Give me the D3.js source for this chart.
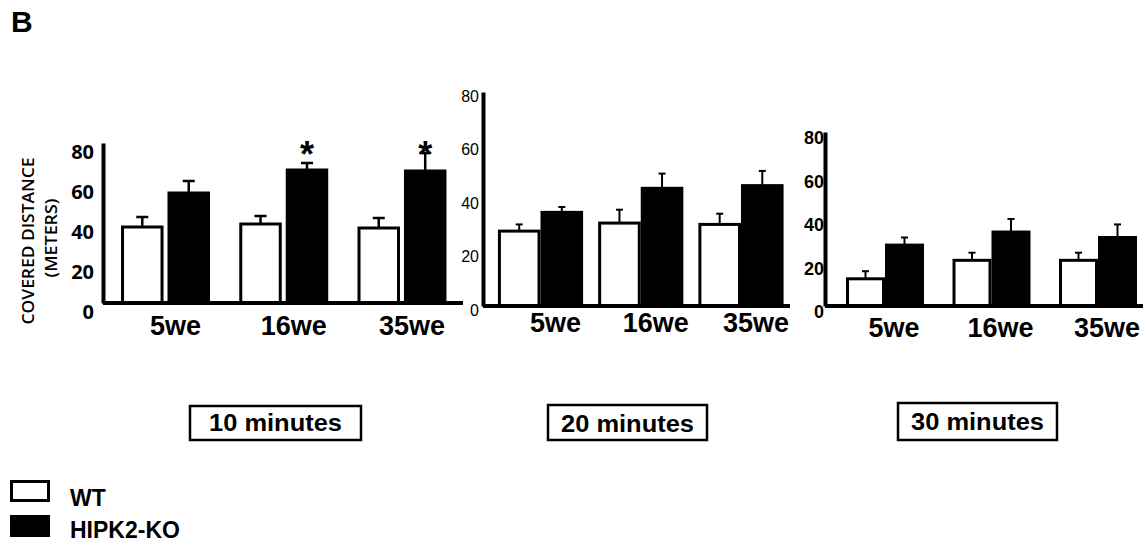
<!DOCTYPE html>
<html lang="en">
<head>
<meta charset="utf-8">
<title>Covered distance - WT vs HIPK2-KO</title>
<script src="https://d3js.org/d3.v7.min.js"></script>
<style>
	html, body { margin: 0; padding: 0; background: #fff; }
	svg { display: block; }
</style>
</head>
<body>
<svg id="chart" width="1148" height="545"></svg>
<script type="text/javascript">

	// ---- data ----
	var categories = ["5we", "16we", "35we"];
	var series = ["WT", "HIPK2-KO"];
	var panelTitles = ["10 minutes", "20 minutes", "30 minutes"];
	var yTicks = [0, 20, 40, 60, 80];

	// 10 minutes
	var wt10 = [38, 39.5, 37.5], wt10Err = [5, 4, 5];
	var ko10 = [55, 66.5, 66], ko10Err = [6, 3.5, 9];
	var ko10Sig = [false, true, true];
	// 20 minutes
	var wt20 = [28, 31, 30.5], wt20Err = [2.5, 5, 4];
	var ko20 = [35, 44, 45], ko20Err = [2, 5.5, 5.5];
	// 30 minutes
	var wt30 = [12.5, 21, 21], wt30Err = [3.5, 3.5, 3.5];
	var ko30 = [28, 34, 31.5], ko30Err = [3.5, 6, 6];

	var ARIAL = "Arial, 'Liberation Sans', sans-serif";

	// ---- layout of each panel (positions only) ----
	var layouts = [
		{ axisX: 103, base: 303, top: 143, xEnd: 463, band: [106.4, 461.1], pad: 0.273, innerPad: 0.15,
		  tickFamily: "'Open Sans', sans-serif", tickWeight: 700, tickSize: 20, tickGap: 9, tickDy: 9,
		  capW: 12, errW: 2.5, labelDx: 10, labelY: 335, box: [190, 406, 171, 34], titleY: 431 },
		{ axisX: 483, base: 306, top: 92, xEnd: 790, band: [490.4, 791.1], pad: 0.18, innerPad: 0.07,
		  tickFamily: ARIAL, tickWeight: 400, tickSize: 16, tickGap: 4, tickDy: 4,
		  capW: 7, errW: 2, labelDx: 15, labelY: 332, box: [548, 405, 159, 35], titleY: 432 },
		{ axisX: 825, base: 306, top: 132, xEnd: 1143, band: [831.75, 1151.25], pad: 0.296, innerPad: 0.077,
		  tickFamily: ARIAL, tickWeight: 700, tickSize: 18, tickGap: 1, tickDy: 6,
		  capW: 7, errW: 2, labelDx: 9, labelY: 337, box: [898, 403, 159, 37], titleY: 430 }
	];

	var panelData = [
		{ wt: wt10, wtErr: wt10Err, ko: ko10, koErr: ko10Err, sig: ko10Sig },
		{ wt: wt20, wtErr: wt20Err, ko: ko20, koErr: ko20Err, sig: [false, false, false] },
		{ wt: wt30, wtErr: wt30Err, ko: ko30, koErr: ko30Err, sig: [false, false, false] }
	];

	var svg = d3.select("#chart");

	// panel letter
	svg.append("text")
		.attr("x", 11).attr("y", 32)
		.attr("font-family", ARIAL).attr("font-weight", 700).attr("font-size", 30)
		.text("B");

	// y axis title (first panel only)
	var yTitle = svg.append("g")
		.attr("font-family", "'Open Sans', sans-serif").attr("font-weight", 600)
		.attr("font-size", 16).attr("fill", "#000");
	yTitle.append("text")
		.attr("transform", "translate(34,241) rotate(-90)")
		.attr("text-anchor", "middle")
		.attr("textLength", 167).attr("lengthAdjust", "spacingAndGlyphs")
		.text("COVERED DISTANCE");
	yTitle.append("text")
		.attr("transform", "translate(57,238) rotate(-90)")
		.attr("text-anchor", "middle")
		.attr("textLength", 79).attr("lengthAdjust", "spacingAndGlyphs")
		.text("(METERS)");

	layouts.forEach(function(L, p) {
		var D = panelData[p];
		var g = svg.append("g").attr("class", "panel");

		var y = d3.scaleLinear().domain([0, 80]).range([L.base, L.top]);
		var x0 = d3.scaleBand().domain(categories).range(L.band)
			.paddingInner(L.pad).paddingOuter(L.pad / 2);
		var x1 = d3.scaleBand().domain(series).range([0, x0.bandwidth()]).paddingInner(L.innerPad);

		var rows = [];
		categories.forEach(function(c, i) {
			rows.push({ cat: c, s: "WT", v: D.wt[i], e: D.wtErr[i], sig: false });
			rows.push({ cat: c, s: "HIPK2-KO", v: D.ko[i], e: D.koErr[i], sig: D.sig[i] });
		});

		// error bars (upper only)
		var eb = g.append("g").attr("stroke", "#000").attr("stroke-width", L.errW);
		eb.selectAll("line.v").data(rows).enter().append("line")
			.attr("class", "v")
			.attr("x1", function(d) { return x0(d.cat) + x1(d.s) + x1.bandwidth() / 2; })
			.attr("x2", function(d) { return x0(d.cat) + x1(d.s) + x1.bandwidth() / 2; })
			.attr("y1", function(d) { return y(d.v); })
			.attr("y2", function(d) { return y(d.v + d.e); });
		eb.selectAll("line.c").data(rows).enter().append("line")
			.attr("class", "c")
			.attr("x1", function(d) { return x0(d.cat) + x1(d.s) + x1.bandwidth() / 2 - L.capW / 2; })
			.attr("x2", function(d) { return x0(d.cat) + x1(d.s) + x1.bandwidth() / 2 + L.capW / 2; })
			.attr("y1", function(d) { return y(d.v + d.e); })
			.attr("y2", function(d) { return y(d.v + d.e); });

		// bars
		g.selectAll("rect.bar").data(rows).enter().append("rect")
			.attr("class", "bar")
			.attr("x", function(d) { return x0(d.cat) + x1(d.s); })
			.attr("y", function(d) { return y(d.v); })
			.attr("width", x1.bandwidth())
			.attr("height", function(d) { return L.base - y(d.v); })
			.attr("fill", function(d) { return d.s === "WT" ? "#fff" : "#000"; })
			.attr("stroke", "#000")
			.attr("stroke-width", 3);

		// significance stars
		g.selectAll("text.star").data(rows.filter(function(d) { return d.sig; })).enter().append("text")
			.attr("class", "star")
			.attr("x", function(d) { return x0(d.cat) + x1(d.s) + x1.bandwidth() / 2; })
			.attr("y", y(80) + 24)
			.attr("text-anchor", "middle")
			.attr("font-family", ARIAL).attr("font-weight", 700).attr("font-size", 36)
			.text("*");

		// y axis
		var ya = g.append("g")
			.attr("transform", "translate(" + L.axisX + ",0)")
			.call(d3.axisLeft(y).tickValues(yTicks).tickSize(0).tickSizeOuter(0).tickPadding(L.tickGap));
		ya.select(".domain").attr("stroke-width", 4);
		ya.selectAll("text")
			.attr("y", L.tickDy)
			.attr("fill", "#000")
			.style("font-family", L.tickFamily)
			.style("font-weight", L.tickWeight)
			.style("font-size", L.tickSize + "px");

		// x axis line
		g.append("line")
			.attr("x1", L.axisX).attr("x2", L.xEnd)
			.attr("y1", L.base).attr("y2", L.base)
			.attr("stroke", "#000").attr("stroke-width", 4);

		// category labels
		var xa = g.append("g")
			.attr("transform", "translate(0," + L.labelY + ")")
			.call(d3.axisBottom(x0).tickSize(0).tickSizeOuter(0));
		xa.select(".domain").remove();
		xa.selectAll("text")
			.attr("x", L.labelDx).attr("y", 0).attr("dy", 0)
			.attr("fill", "#000")
			.style("font-family", ARIAL).style("font-weight", 700).style("font-size", "27px");

		// boxed panel title
		g.append("rect")
			.attr("x", L.box[0]).attr("y", L.box[1])
			.attr("width", L.box[2]).attr("height", L.box[3])
			.attr("fill", "none").attr("stroke", "#000").attr("stroke-width", 2.5);
		g.append("text")
			.attr("x", L.box[0] + L.box[2] / 2).attr("y", L.titleY)
			.attr("text-anchor", "middle")
			.attr("textLength", 133).attr("lengthAdjust", "spacingAndGlyphs")
			.attr("font-family", ARIAL).attr("font-weight", 700).attr("font-size", 23)
			.text(panelTitles[p]);
	});

	// legend
	var legend = svg.append("g").attr("font-family", ARIAL).attr("font-weight", 700).attr("font-size", 23);
	var legY = d3.scalePoint().domain(series).range([0, 35]);
	series.forEach(function(s) {
		legend.append("rect")
			.attr("x", 11.5).attr("y", 481.5 + legY(s))
			.attr("width", 37).attr("height", 19)
			.attr("fill", s === "WT" ? "#fff" : "#000")
			.attr("stroke", "#000").attr("stroke-width", 3);
		legend.append("text")
			.attr("x", 70).attr("y", 506 + legY(s) * 0.92)
			.text(s);
	});
</script>
</body>
</html>
